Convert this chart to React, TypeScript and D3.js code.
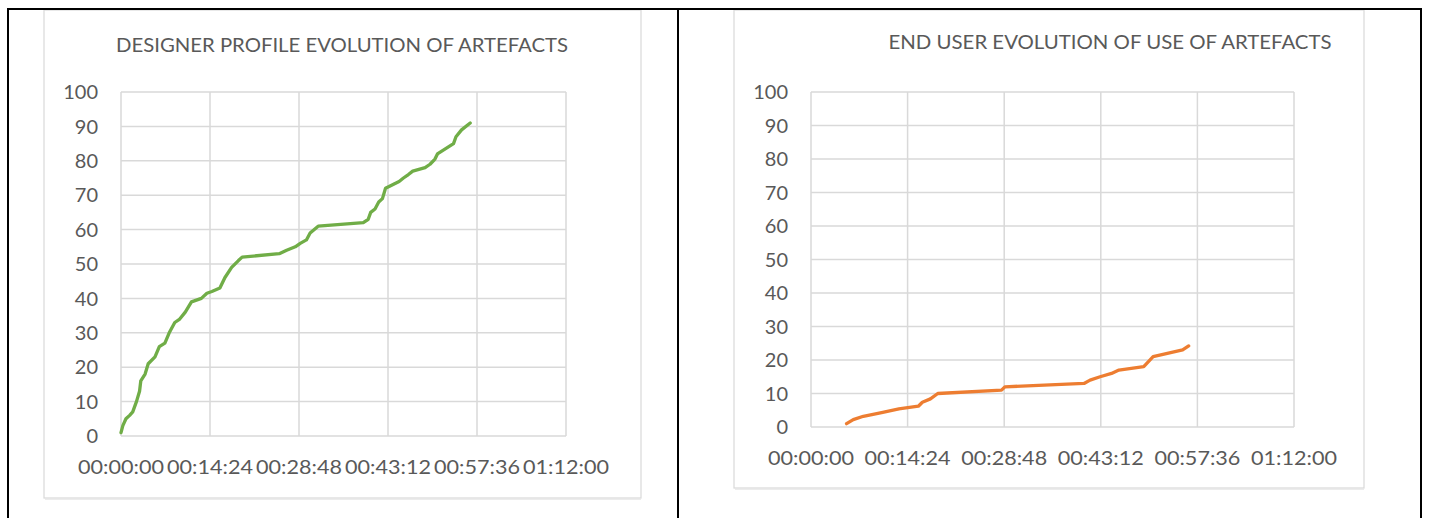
import React from "react";
import * as d3 from "d3";

const xTickLabels = ["00:00:00", "00:14:24", "00:28:48", "00:43:12", "00:57:36", "01:12:00"];
const yTickValues = [0, 10, 20, 30, 40, 50, 60, 70, 80, 90, 100];

const designerTitle = "DESIGNER PROFILE EVOLUTION OF ARTEFACTS";
const designerTimes = [
  "00:00:00", "00:00:18", "00:00:48", "00:01:24", "00:01:54", "00:02:30", "00:03:00", "00:03:12",
  "00:03:54", "00:04:24", "00:05:30", "00:06:12", "00:07:06", "00:07:48", "00:08:42", "00:09:30",
  "00:10:24", "00:11:24", "00:13:00", "00:13:54", "00:14:42", "00:16:00", "00:16:48", "00:17:54",
  "00:19:00", "00:19:36", "00:25:36", "00:26:48", "00:28:12", "00:29:00", "00:30:00", "00:30:36",
  "00:31:54", "00:39:12", "00:40:00", "00:40:24", "00:41:06", "00:41:42", "00:42:18", "00:42:48",
  "00:45:00", "00:45:42", "00:46:30", "00:47:12", "00:49:12", "00:50:00", "00:50:48", "00:51:12",
  "00:53:48", "00:54:12", "00:55:06", "00:56:30",
];
const designerValues = [
  1, 3, 5, 6, 7, 10, 13, 16,
  18, 21, 23, 26, 27, 30, 33, 34,
  36, 39, 40, 41.5, 42, 43, 46, 49,
  51, 52, 53, 54, 55, 56, 57, 59,
  61, 62, 63, 65, 66, 68, 69, 72,
  74, 75, 76, 77, 78, 79, 80.5, 82,
  85, 87, 89, 91,
];

const endUserTitle = "END USER EVOLUTION OF USE OF ARTEFACTS";
const endUserTimes = [
  "00:05:18", "00:06:18", "00:07:48", "00:10:42", "00:13:06", "00:16:00", "00:16:36", "00:17:48",
  "00:18:54", "00:28:24", "00:28:54", "00:40:42", "00:41:36", "00:43:06", "00:44:48", "00:45:54",
  "00:49:36", "00:51:00", "00:55:24", "00:56:18",
];
const endUserValues = [
  1, 2.2, 3.2, 4.4, 5.4, 6.2, 7.4, 8.4,
  10, 11, 12, 13, 14, 15, 16, 17,
  18, 21, 23, 24.2,
];

const toSec = (s: string) => {
  const [h, m, sec] = s.split(":").map(Number);
  return h * 3600 + m * 60 + sec;
};

const FONT = "Lato, 'Open Sans', sans-serif";
const TEXT = "#595959";
const GRID = "#d9d9d9";

type ChartProps = {
  title: string;
  times: string[];
  values: number[];
  color: string;
  box: { x: number; y: number; w: number; h: number };
  plot: { x0: number; x1: number; y0: number; y1: number };
  titlePos: { x: number; y: number; len: number };
};

function Chart({ title, times, values, color, box, plot, titlePos }: ChartProps) {
  const tickSecs = xTickLabels.map(toSec);
  const x = d3.scaleLinear().domain([0, tickSecs[tickSecs.length - 1]]).range([plot.x0, plot.x1]);
  const y = d3.scaleLinear().domain([0, 100]).range([plot.y1, plot.y0]);
  const pts: [number, number][] = times.map((t, i) => [toSec(t), values[i]]);
  const line = d3
    .line<[number, number]>()
    .x((d) => x(d[0]))
    .y((d) => y(d[1]));
  return (
    <g>
      <rect x={box.x} y={box.y} width={box.w} height={box.h} fill="#fff" stroke={GRID} strokeWidth={1.2} />
      <line x1={box.x + 1} x2={box.x + box.w} y1={box.y + box.h + 1} y2={box.y + box.h + 1} stroke="#e6e6e6" strokeWidth={1.5} />
      <text
        x={titlePos.x}
        y={titlePos.y}
        textAnchor="middle"
        fontFamily={FONT}
        fontSize={19}
        fill={TEXT}
        textLength={titlePos.len}
        lengthAdjust="spacingAndGlyphs"
      >
        {title}
      </text>
      {yTickValues.map((v) => (
        <line key={"h" + v} x1={plot.x0} x2={plot.x1} y1={y(v)} y2={y(v)} stroke={GRID} strokeWidth={1.5} />
      ))}
      {tickSecs.map((s) => (
        <line key={"v" + s} x1={x(s)} x2={x(s)} y1={plot.y0} y2={plot.y1} stroke={GRID} strokeWidth={1.5} />
      ))}
      {yTickValues.map((v) => (
        <text
          key={"yl" + v}
          x={plot.x0 - 23}
          y={y(v)}
          dy="0.36em"
          textAnchor="end"
          fontFamily={FONT}
          fontSize={20}
          fill={TEXT}
        >
          {v}
        </text>
      ))}
      {xTickLabels.map((lab, i) => (
        <text
          key={"xl" + lab}
          x={x(tickSecs[i])}
          y={plot.y1 + 31}
          dy="0.36em"
          textAnchor="middle"
          fontFamily={FONT}
          fontSize={20}
          fill={TEXT}
          textLength={86}
          lengthAdjust="spacingAndGlyphs"
        >
          {lab}
        </text>
      ))}
      <path d={line(pts) || ""} fill="none" stroke={color} strokeWidth={3.3} strokeLinejoin="round" strokeLinecap="round" />
    </g>
  );
}

export default function App() {
  return (
    <svg
      width={1429}
      height={518}
      style={{ position: "absolute", left: 0, top: 0, background: "#fff" }}
    >
      <rect x={0} y={0} width={1429} height={518} fill="#fff" />
      <Chart
        title={designerTitle}
        times={designerTimes}
        values={designerValues}
        color="#70ad47"
        box={{ x: 44, y: 10, w: 597, h: 488 }}
        plot={{ x0: 121, x1: 566, y0: 92, y1: 436 }}
        titlePos={{ x: 342, y: 52, len: 452 }}
      />
      <Chart
        title={endUserTitle}
        times={endUserTimes}
        values={endUserValues}
        color="#ed7d31"
        box={{ x: 734, y: 10, w: 630, h: 478 }}
        plot={{ x0: 811, x1: 1294, y0: 92, y1: 427 }}
        titlePos={{ x: 1110, y: 49, len: 443 }}
      />
      <line x1={7} x2={1422} y1={9} y2={9} stroke="#000" strokeWidth={2} />
      <line x1={8} x2={8} y1={8} y2={518} stroke="#000" strokeWidth={2} />
      <line x1={678} x2={678} y1={8} y2={518} stroke="#000" strokeWidth={2} />
      <line x1={1421} x2={1421} y1={8} y2={518} stroke="#000" strokeWidth={2} />
    </svg>
  );
}
